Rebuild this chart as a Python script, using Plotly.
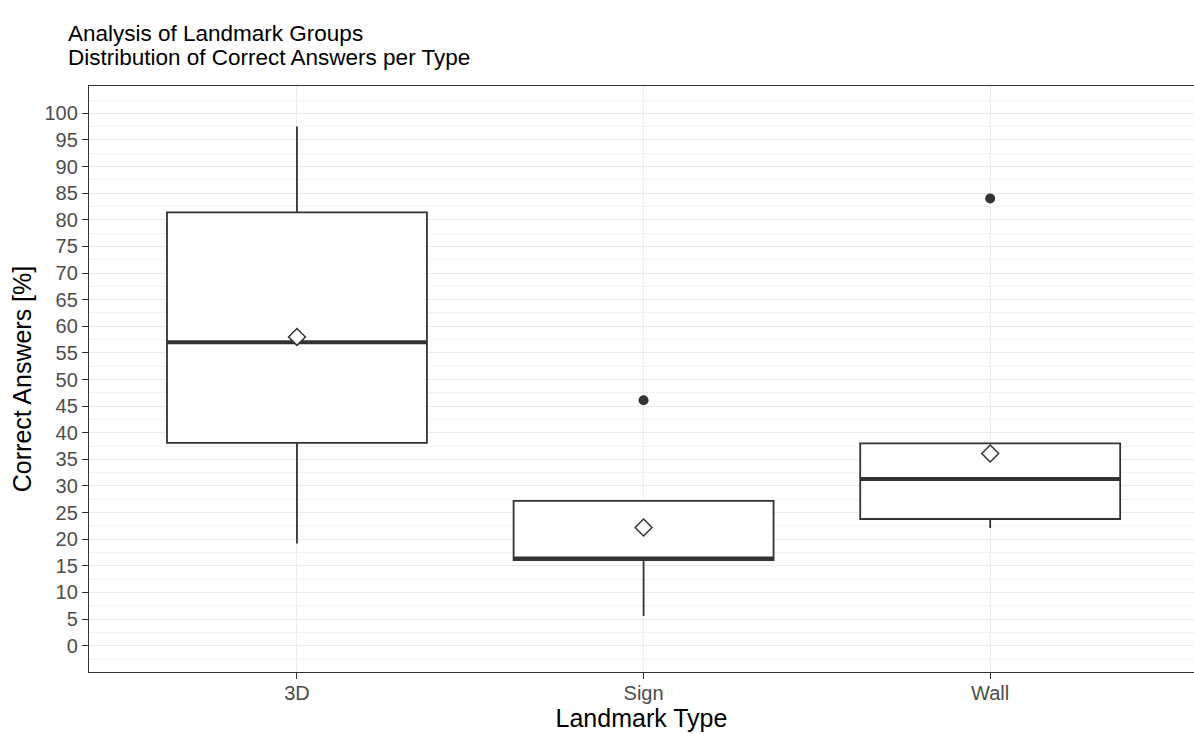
import plotly.graph_objects as go

# ---- data ----
categories = ["3D", "Sign", "Wall"]
q1_vals = [38.1, 16.1, 23.8]
median_vals = [57.0, 16.4, 31.3]
q3_vals = [81.4, 27.2, 38.0]
lower_whisker = [19.2, 5.6, 22.1]
upper_whisker = [97.5, 27.2, 38.0]
mean_vals = [58.0, 22.2, 36.1]
outlier_cat = ["Sign", "Wall"]
outlier_vals = [46.1, 84.0]
y_ticks = [0, 5, 10, 15, 20, 25, 30, 35, 40, 45, 50,
           55, 60, 65, 70, 75, 80, 85, 90, 95, 100]
title_line1 = "Analysis of Landmark Groups"
title_line2 = "Distribution of Correct Answers per Type"

BOX_W = 0.75
DARK = "#333333"
FONT = "Liberation Sans, Arial, sans-serif"
W, H = 1194, 734
ML, MR, MT, MB = 89, 0, 86, 62

pos = list(range(len(categories)))
cat_pos = {c: i for i, c in enumerate(categories)}

fig = go.Figure()

fig.add_trace(go.Box(
    x=pos, q1=q1_vals, median=median_vals, q3=q3_vals,
    lowerfence=lower_whisker, upperfence=upper_whisker,
    width=BOX_W, whiskerwidth=0,
    fillcolor="white", line=dict(color=DARK, width=1.8),
    boxpoints=False, showlegend=False, hoverinfo="skip",
))

# thick median lines (ggplot style)
for i, m in zip(pos, median_vals):
    fig.add_trace(go.Scatter(
        x=[i - BOX_W / 2, i + BOX_W / 2], y=[m, m], mode="lines",
        line=dict(color=DARK, width=4), showlegend=False, hoverinfo="skip",
    ))

# outliers
fig.add_trace(go.Scatter(
    x=[cat_pos[c] for c in outlier_cat], y=outlier_vals, mode="markers",
    marker=dict(color=DARK, size=10), showlegend=False,
))

# means
fig.add_trace(go.Scatter(
    x=pos, y=mean_vals, mode="markers",
    marker=dict(symbol="diamond", size=13, color="white",
                line=dict(color=DARK, width=1.5)),
    showlegend=False,
))

plot_h = H - MT - MB
plot_w = W - ML - MR

fig.update_layout(
    width=W, height=H,
    margin=dict(l=ML, r=MR, t=MT, b=MB),
    paper_bgcolor="white", plot_bgcolor="white",
    font=dict(family=FONT, color="black"),
    title=dict(
        text=title_line1,
        x=68 / W, xanchor="left", xref="container",
        y=1 - 25 / H, yanchor="top", yref="container",
        font=dict(size=22.5, color="black", family=FONT),
    ),
    annotations=[dict(
        text=title_line2, showarrow=False,
        x=(66 - ML) / plot_w, xanchor="left", xref="paper",
        y=(H - MB - 43) / plot_h, yanchor="top", yref="paper",
        font=dict(size=22.5, color="black", family=FONT),
    )],
)

fig.update_xaxes(
    range=[-0.6, 2.588], tickvals=pos, ticktext=categories,
    showgrid=True, gridcolor="#EBEBEB", gridwidth=1.3,
    showline=True, linecolor=DARK, linewidth=1.3, mirror=True,
    ticks="outside", ticklen=6, tickcolor=DARK, tickwidth=1.3,
    tickfont=dict(size=20, color="#4D4D4D", family=FONT),
    ticklabelstandoff=-3,
    title=dict(text="Landmark Type", font=dict(size=25, color="black", family=FONT), standoff=4),
    zeroline=False,
)
fig.update_yaxes(
    range=[-4.94, 105.13], tickmode="array", tickvals=y_ticks,
    ticktext=[str(v) for v in y_ticks],
    showgrid=True, gridcolor="#EBEBEB", gridwidth=1.3,
    minor=dict(tick0=0, dtick=2.5, showgrid=True, gridcolor="#F2F2F2", gridwidth=0.8),
    showline=True, linecolor=DARK, linewidth=1.3,
    ticks="outside", ticklen=6, tickcolor=DARK, tickwidth=1.3,
    tickfont=dict(size=20, color="#4D4D4D", family=FONT),
    title=dict(text="Correct Answers [%]", font=dict(size=25, color="black", family=FONT), standoff=5),
    zeroline=False,
)

fig.write_html(
    "out.html",
    config={"displayModeBar": False},
    post_script="document.body.style.margin='0px';document.body.style.overflow='hidden';",
)
